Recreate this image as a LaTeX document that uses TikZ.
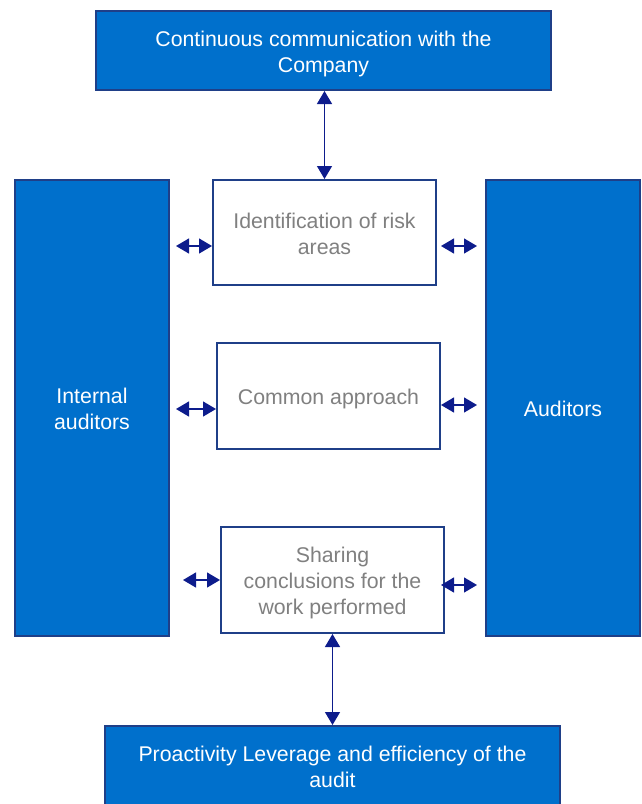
\documentclass[tikz,border=0pt]{standalone}
\usepackage{fontspec}
\setmainfont{Liberation Sans}
\usetikzlibrary{arrows.meta}
\definecolor{bfill}{HTML}{0070CC}
\definecolor{bline}{HTML}{1F3F88}
\definecolor{arr}{HTML}{0D1C8C}
\definecolor{gtext}{HTML}{808080}
\newcommand\lowtext[1]{\raisebox{-3.3pt}[\height][\depth]{\begin{tabular}{@{}c@{}}#1\end{tabular}}}
\begin{document}
\begin{tikzpicture}[x=1pt,y=-1pt,
  bluebox/.style={draw=bline,line width=2pt,fill=bfill,text=white,font=\fontsize{21.3}{26}\selectfont,inner sep=0pt},
  whitebox/.style={draw=bline,line width=2pt,fill=white,text=gtext,font=\fontsize{21.3}{26}\selectfont,inner sep=0pt},
  link/.style={draw=arr,line width=1.3pt,{Triangle[length=13pt,width=15pt]}-{Triangle[length=13pt,width=15pt]}}]
\useasboundingbox (0,0) rectangle (641,804);
\node[bluebox,minimum width=455pt,minimum height=79pt] (top) at (323.5,50.5) {\lowtext{Continuous communication with the\\Company}};
\node[bluebox,minimum width=455pt,minimum height=80pt] (bot) at (332.5,766) {\lowtext{Proactivity Leverage and efficiency of the\\audit}};
\node[bluebox,minimum width=154pt,minimum height=456pt] (L) at (92,408) {\lowtext{Internal\\auditors}};
\node[bluebox,minimum width=154pt,minimum height=456pt] (R) at (563,408) {\lowtext{Auditors}};
\node[whitebox,minimum width=223pt,minimum height=105pt] (b1) at (324.5,232.5) {\lowtext{Identification of risk\\areas}};
\node[whitebox,minimum width=223pt,minimum height=106pt] (b2) at (328.5,396) {\lowtext{Common approach}};
\node[whitebox,minimum width=223pt,minimum height=106pt] (b3) at (332.5,580) {\lowtext{Sharing\\conclusions for the\\work performed}};
\draw[link] (top.south -| b1.north) -- (b1.north);
\draw[link] (b3.south) -- (b3.south |- bot.north);
\draw[link,shorten <=6pt] ([yshift=-13.5pt]b1.west -| L.east) -- ([yshift=-13.5pt]b1.west);
\draw[link,shorten <=6pt] ([yshift=-13pt]b2.west -| L.east) -- ([yshift=-13pt]b2.west);
\draw[link,shorten <=13pt] (b3.west -| L.east) -- (b3.west);
\draw[link,shorten <=4pt,shorten >=8pt] ([yshift=-13.5pt]b1.east) -- ([yshift=-13.5pt]b1.east -| R.west);
\draw[link,shorten >=8pt] ([yshift=-9pt]b2.east) -- ([yshift=-9pt]b2.east -| R.west);
\draw[link,shorten <=-4pt,shorten >=8pt] ([yshift=-5pt]b3.east) -- ([yshift=-5pt]b3.east -| R.west);
\end{tikzpicture}
\end{document}
